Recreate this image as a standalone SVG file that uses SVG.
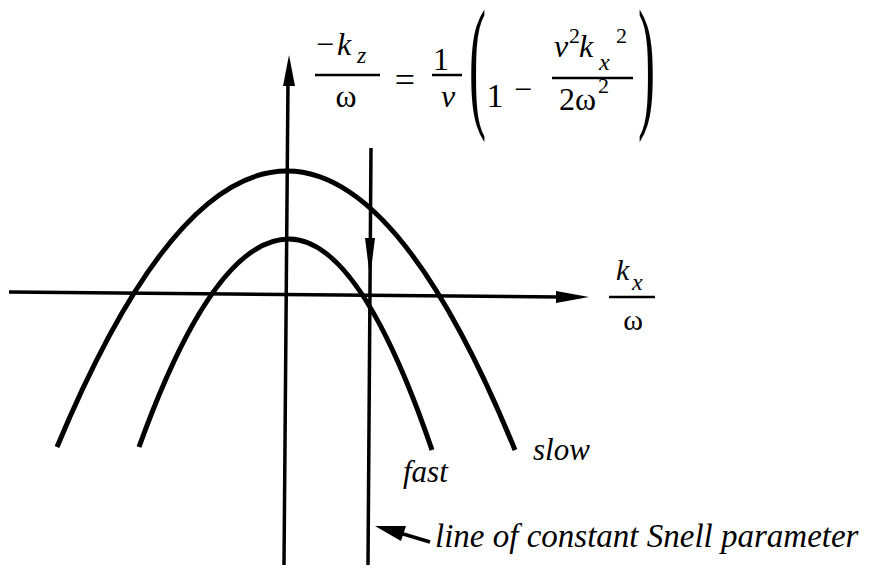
<svg xmlns="http://www.w3.org/2000/svg" width="873" height="569" viewBox="0 0 873 569">
<style>
.ax{stroke:#000;stroke-width:3.5;fill:none}
.cv{stroke:#000;stroke-width:5;fill:none;stroke-linecap:butt}
.hd{fill:#000;stroke:none}
.i{font-style:italic}
.bar{stroke:#000;stroke-width:2.5}
</style>
<rect width="873" height="569" fill="#fff"/>
<g id="axes">
<line class="ax" x1="288" y1="80" x2="284" y2="565"/>
<polygon class="hd" points="289,55 295,86 283,86"/>
<line class="ax" x1="9" y1="292" x2="560" y2="297"/>
<polygon class="hd" points="589,297 556,291 556,303"/>
</g>
<g id="curves">
<path id="slow-curve" class="cv" d="M57,447 Q172,171 287,171 Q401,171 515,450"/>
<path id="fast-curve" class="cv" d="M139,447 Q214,239 289,239 Q360,239 432,450"/>
</g>
<g id="snell-line">
<line class="ax" x1="371" y1="148" x2="368" y2="565"/>
<polygon class="hd" points="370,278 365,238 375,238"/>
</g>
<g id="pointer">
<line class="ax" x1="430" y1="542" x2="400" y2="533"/>
<polygon class="hd" points="375,526 406,526 401,541"/>
</g>
<g font-family="'Liberation Serif', 'Times New Roman', serif" fill="#000">
<g id="equation">
<text x="316" y="55" font-size="32">−</text>
<text x="337" y="55" font-size="32" class="i">k</text>
<text x="357" y="63" font-size="24" class="i">z</text>
<line class="bar" x1="315" y1="75" x2="380" y2="75"/>
<text x="346" y="107" font-size="32" text-anchor="middle">ω</text>
<text x="405" y="92" font-size="36" text-anchor="middle">=</text>
<text x="441" y="70" font-size="32" text-anchor="middle">1</text>
<line class="bar" x1="432" y1="75" x2="462" y2="75"/>
<text x="448" y="107" font-size="32" text-anchor="middle" class="i">v</text>
<text transform="translate(469,111) scale(0.35,1)" font-size="146">(</text>
<text x="495" y="107" font-size="34" text-anchor="middle">1</text>
<text x="523" y="100" font-size="32" text-anchor="middle">−</text>
<line class="bar" x1="552" y1="78" x2="633" y2="78"/>
<text x="554" y="57" font-size="32" class="i">v</text>
<text x="569" y="43" font-size="22">2</text>
<text x="579" y="57" font-size="32" class="i">k</text>
<text x="599" y="70" font-size="24" class="i">x</text>
<text x="616" y="43" font-size="22">2</text>
<text x="559" y="110" font-size="32">2ω</text>
<text x="598" y="93" font-size="22">2</text>
<text transform="translate(638,111) scale(0.35,1)" font-size="146">)</text>
</g>
<g id="axis-label">
<text x="616" y="280" font-size="30" class="i">k</text>
<text x="632" y="290" font-size="24" class="i">x</text>
<line class="bar" x1="609" y1="297" x2="655" y2="297"/>
<text x="633" y="330" font-size="30" text-anchor="middle">ω</text>
</g>
<g id="labels">
<text x="533" y="460" font-size="31" class="i">slow</text>
<text x="403" y="482" font-size="31" class="i">fast</text>
<text x="435" y="547" font-size="33" class="i">line of constant Snell parameter</text>
</g>
</g>
</svg>
